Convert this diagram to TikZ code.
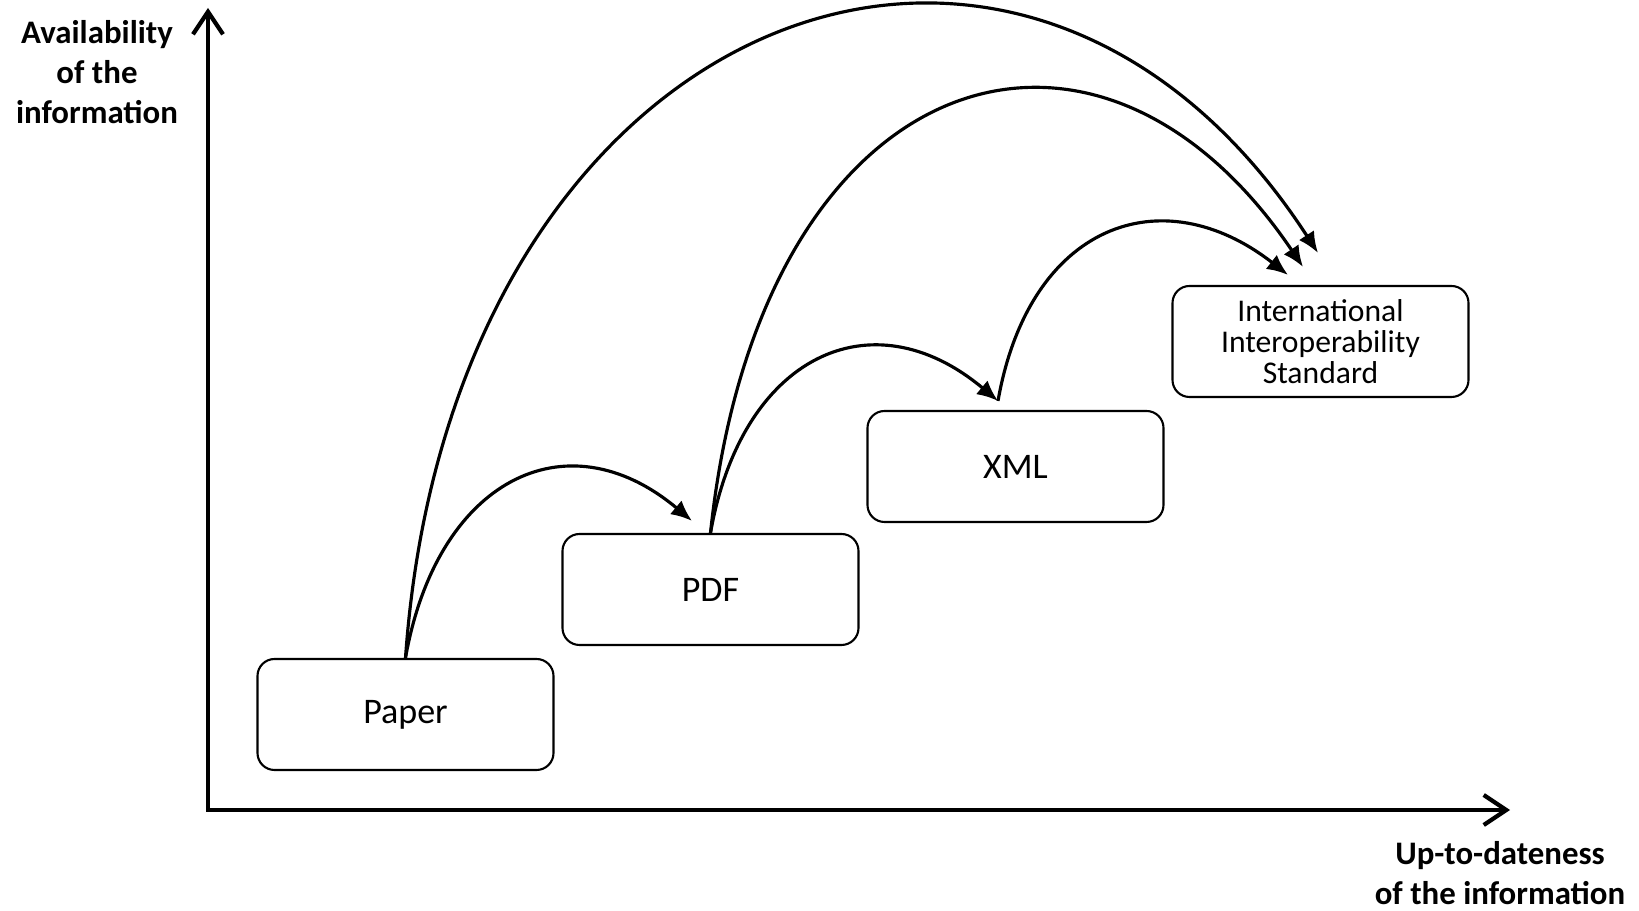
\documentclass[tikz,border=0pt]{standalone}
\usepackage{fontspec}
\setmainfont{Carlito}
\usetikzlibrary{arrows.meta,calc}
\tikzset{
  stepbox/.style = {
    rectangle, draw, line width=1.2pt, rounded corners=0.34cm,
    minimum width=5.92cm, minimum height=2.22cm, align=center,
    font=\fontsize{20.5}{22}\selectfont, inner sep=2pt
  },
  axis/.style      = {line width=2.4pt,
    {Straight Barb[length=0.45cm,width=0.6cm]}-{Straight Barb[length=0.45cm,width=0.6cm]}},
  jump/.style      = {line width=1.8pt, -{Latex[length=0.42cm,width=0.36cm]}},
  axislabel/.style = {font=\bfseries\fontsize{18.7}{22.8}\selectfont, align=center}
}

\begin{document}
\begin{tikzpicture}[x=1cm,y=1cm]
\useasboundingbox (0,0) rectangle (32.78,18.22);

% --- axes -----------------------------------------------------------------
\coordinate (origin) at (4.16,2.02);
\coordinate (ytop)   at (4.16,18.06);
\coordinate (xend)   at (30.2,2.02);
\draw[axis] (ytop) -- (origin) -- (xend);
\node[axislabel] (ylabel) at (1.94,16.78) {Availability\\of the\\information};
\node[axislabel] (xlabel) at (30.0,0.76)  {Up-to-dateness\\of the information};

% --- the formats, one step up each ----------------------------------------
\node[stepbox] (paper) at (8.11,3.93)  {Paper};
\node[stepbox] (pdf)   at (14.21,6.43) {PDF};
\node[stepbox] (xml)   at (20.31,8.89) {XML};
\node[stepbox, font=\fontsize{18}{17.5}\selectfont] (iis) at (26.41,11.39)
     {International\\Interoperability\\Standard};

% --- where the arrows land ------------------------------------------------
\coordinate (pdfin)  at ($(pdf.north)+(-0.37,0.24)$);
\coordinate (xmlin)  at ($(xml.north)+(-0.35,0.18)$);
\coordinate (iisinA) at ($(iis.north)+(-0.65,0.20)$);
\coordinate (iisinB) at ($(iis.north)+(-0.35,0.36)$);
\coordinate (iisinC) at ($(iis.north)+(-0.05,0.64)$);

% --- transitions ----------------------------------------------------------
\draw[jump] (paper.north) .. controls +(80:3.6) and +(140:3.3) .. (pdfin);
\draw[jump] (paper.north) .. controls +(86:13) and +(123:11) .. (iisinC);
\draw[jump] (pdf.north)   .. controls +(80:3.6) and +(140:3.3) .. (xmlin);
\draw[jump] (pdf.north)   .. controls +(84:9.4) and +(124:7.5) .. (iisinB);
\draw[jump] (xmlin)       .. controls +(80:3.6) and +(142:3.2) .. (iisinA);

\end{tikzpicture}
\end{document}
